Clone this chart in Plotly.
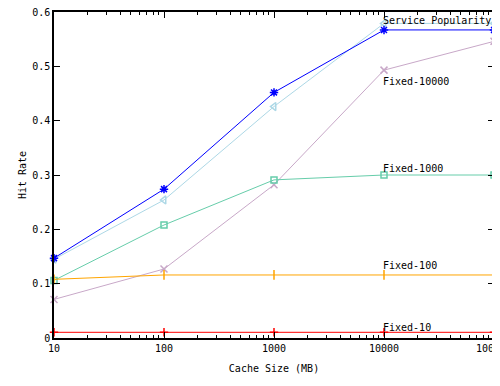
import plotly.graph_objects as go

cache_sizes = [10, 100, 1000, 10000, 100000]
service_pop_a = [0.147, 0.274, 0.452, 0.567, 0.567]
service_pop_b = [0.145, 0.254, 0.426, 0.579, 0.579]
fixed_10000 = [0.071, 0.127, 0.282, 0.493, 0.546]
fixed_1000 = [0.106, 0.208, 0.291, 0.300, 0.300]
fixed_100 = [0.108, 0.116, 0.116, 0.116, 0.116]
fixed_10 = [0.0105, 0.0105, 0.0105, 0.0105, 0.0105]

x_tick_labels = ["10", "100", "1000", "10000", "100000"]
y_tick_vals = [0, 0.1, 0.2, 0.3, 0.4, 0.5, 0.6]
y_tick_labels = ["0", "0.1", "0.2", "0.3", "0.4", "0.5", "0.6"]

label_texts = ["Service Popularity", "Fixed-10000", "Fixed-1000", "Fixed-100", "Fixed-10"]
label_y = [0.584, 0.473, 0.312, 0.133, 0.020]

FONT = "DejaVu Sans Mono"

series = [
    (service_pop_b, "#add8e6", "triangle-left-open", 7),
    (fixed_10000, "#c8a8c8", "x-thin-open", 7),
    (fixed_1000, "#66cdaa", "square-open", 6),
    (fixed_100, "#ffa500", "line-ns-open", 7),
    (fixed_10, "#ff0000", "cross-thin-open", 6),
    (service_pop_a, "#0000ff", "asterisk-open", 7),
]

fig = go.Figure()
for ys, color, sym, size in series:
    fig.add_trace(go.Scatter(
        x=cache_sizes, y=ys, mode="lines+markers",
        line=dict(color=color, width=1),
        marker=dict(symbol=sym, size=size, color=color, line=dict(color=color, width=1.5)),
        showlegend=False, cliponaxis=False,
    ))

for t, y in zip(label_texts, label_y):
    fig.add_annotation(x=4, y=y, xref="x", yref="y", text=t, showarrow=False,
                       xanchor="left", yanchor="middle", xshift=-3,
                       font=dict(family=FONT, size=10, color="black"))

fig.update_layout(
    width=492, height=378,
    margin=dict(l=46, r=6, t=4, b=48, autoexpand=False),
    paper_bgcolor="white", plot_bgcolor="white",
    font=dict(family=FONT, size=10, color="black"),
)
fig.update_xaxes(
    type="log", range=[1, 5], automargin=False, ticklabeloverflow="allow",
    tickvals=cache_sizes, ticktext=x_tick_labels,
    ticks="inside", ticklen=6, tickcolor="black", tickwidth=1,
    minor=dict(ticks="inside", ticklen=3, tickcolor="black", dtick="D1"),
    showline=True, linecolor="black", linewidth=1.5, mirror="ticks",
    showgrid=False, zeroline=False,
    title=dict(text="Cache Size (MB)", font=dict(family=FONT, size=10), standoff=12),
)
fig.update_yaxes(
    range=[0, 0.6], automargin=False, ticklabeloverflow="allow",
    tickvals=y_tick_vals, ticktext=y_tick_labels,
    ticks="inside", ticklen=6, tickcolor="black", tickwidth=1,
    showline=True, linecolor="black", linewidth=1.5, mirror="ticks",
    showgrid=False, zeroline=False,
    title=dict(text="Hit Rate", font=dict(family=FONT, size=10), standoff=4),
)
fig.write_html("out.html")
